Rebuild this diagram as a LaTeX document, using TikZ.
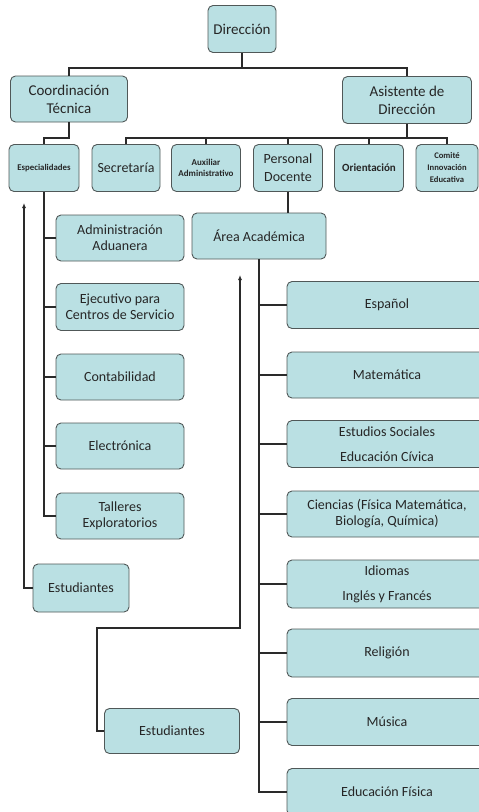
\documentclass[tikz,border=0pt]{standalone}
\usepackage{fontspec}
\setmainfont{Carlito}
\usetikzlibrary{arrows.meta}
\definecolor{boxfill}{HTML}{BAE0E3}
\definecolor{boxborder}{HTML}{505858}
\definecolor{linecol}{HTML}{2A2A2A}
\tikzset{
  box/.style={draw=boxborder, fill=boxfill, rounded corners=5pt, line width=0.9pt,
    align=center, inner sep=0pt, font=\fontsize{14}{16}\selectfont, text=black!85},
  conn/.style={draw=linecol, line width=1.8pt},
  arr/.style={conn, -{Latex[length=5pt,width=4pt]}},
}
\begin{document}
\begin{tikzpicture}[x=1pt,y=-1pt]
\useasboundingbox (0,0) rectangle (479,812);
\clip (0,0) rectangle (479,812);
\fill[white] (0,0) rectangle (479,812);
% top level
\node[box, minimum width=68, minimum height=47, font=\fontsize{15}{17}\selectfont] (dir) at (242,29) {Dirección};
\node[box, minimum width=117, minimum height=46, font=\fontsize{15}{18}\selectfont] (coord) at (69,99) {Coordinación\\Técnica};
\node[box, minimum width=129, minimum height=47, font=\fontsize{15}{18}\selectfont] (asist) at (407,100) {Asistente de\\Dirección};
% second row
\node[box, minimum width=70, minimum height=47, font=\bfseries\fontsize{8.8}{10}\selectfont] (esp) at (44,168) {Especialidades};
\node[box, minimum width=68, minimum height=47] (sec) at (126,168) {Secretaría};
\node[box, minimum width=69, minimum height=47, font=\bfseries\fontsize{9}{11}\selectfont] (aux) at (206,168) {Auxiliar\\Administrativo};
\node[box, minimum width=69, minimum height=47, font=\fontsize{14}{18}\selectfont] (pers) at (288,168) {Personal\\Docente};
\node[box, minimum width=69, minimum height=47, font=\bfseries\fontsize{11}{12}\selectfont] (ori) at (369,168) {Orientación};
\node[box, minimum width=62, minimum height=47, font=\bfseries\fontsize{8.6}{12}\selectfont] (com) at (447,168) {Comité\\Innovación\\Educativa};
% area academica
\node[box, minimum width=134, minimum height=46] (area) at (259,236) {Área Académica};
% left column
\node[box, minimum width=128, minimum height=46] (aa) at (120,238) {Administración\\Aduanera};
\node[box, minimum width=128, minimum height=47] (eje) at (120,307) {Ejecutivo para\\Centros de Servicio};
\node[box, minimum width=128, minimum height=46] (cont) at (120,377) {Contabilidad};
\node[box, minimum width=128, minimum height=46] (elec) at (120,446) {Electrónica};
\node[box, minimum width=128, minimum height=46] (tall) at (120,516) {Talleres\\Exploratorios};
% students
\node[box, minimum width=96, minimum height=48] (est1) at (81,588) {Estudiantes};
\node[box, minimum width=135, minimum height=45] (est2) at (172,731) {Estudiantes};
% right column
\node[box, minimum width=200, minimum height=47] (espa) at (387,305) {Español};
\node[box, minimum width=200, minimum height=46] (mat) at (387,375) {Matemática};
\node[box, minimum width=200, minimum height=47] (soc) at (387,444) {Estudios Sociales\\[9pt]Educación Cívica};
\node[box, minimum width=200, minimum height=46] (cie) at (387,514) {Ciencias (Física Matemática,\\Biología, Química)};
\node[box, minimum width=200, minimum height=48] (idi) at (387,584) {Idiomas\\[9pt]Inglés y Francés};
\node[box, minimum width=200, minimum height=48] (rel) at (387,653) {Religión};
\node[box, minimum width=200, minimum height=47] (mus) at (387,722) {Música};
\node[box, minimum width=200, minimum height=47] (edf) at (387,792) {Educación Física};
% connectors
\coordinate (b1) at (242,68);
\draw[conn] (dir.south) -- (b1);
\draw[conn] (coord.north) |- (b1) -| (asist.north);
\coordinate (b2) at (69,138);
\draw[conn] (coord.south) -- (b2) -| (esp.north);
\coordinate (b3) at (407,138);
\draw[conn] (asist.south) -- (b3);
\draw[conn] (sec.north) |- (b3) -| (com.north);
\draw[conn] (aux.north) -- (aux.north |- b3);
\draw[conn] (pers.north) -- (pers.north |- b3);
\draw[conn] (ori.north) -- (ori.north |- b3);
\draw[conn] (pers.south) -- (pers.south |- area.north);
% left tree
\draw[conn] (esp.south) |- (tall.west);
\foreach \n in {aa,eje,cont,elec}{\draw[conn] (esp.south |- \n.west) -- (\n.west);}
% right tree
\draw[conn] (area.south) |- (edf.west);
\foreach \n in {espa,mat,soc,cie,idi,rel,mus}{\draw[conn] (area.south |- \n.west) -- (\n.west);}
% arrows
\coordinate (a1) at (24,203);
\draw[arr] (est1.west) -| (a1);
\coordinate (k1) at (97,628);
\coordinate (a2) at (240,275);
\draw[arr] (est2.west) -| (k1) -| (a2);
\end{tikzpicture}
\end{document}
